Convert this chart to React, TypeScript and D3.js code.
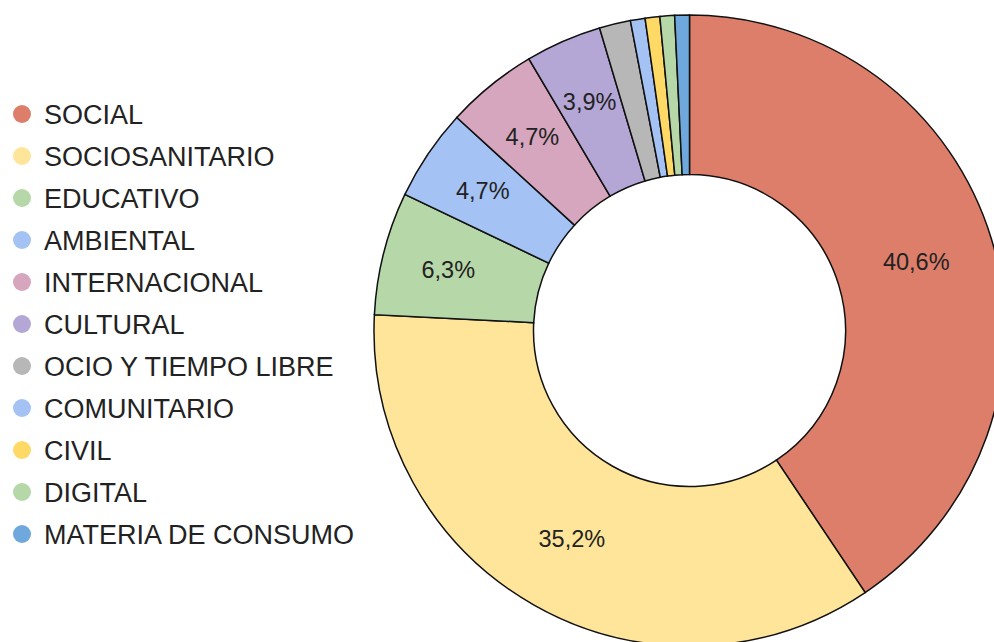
import React, { useEffect, useRef } from 'react';
import * as d3 from 'd3';

const categories = [
  'SOCIAL',
  'SOCIOSANITARIO',
  'EDUCATIVO',
  'AMBIENTAL',
  'INTERNACIONAL',
  'CULTURAL',
  'OCIO Y TIEMPO LIBRE',
  'COMUNITARIO',
  'CIVIL',
  'DIGITAL',
  'MATERIA DE CONSUMO',
];
const values = [40.6, 35.2, 6.3, 4.7, 4.7, 3.9, 1.6, 0.75, 0.75, 0.75, 0.75];
const colors = [
  '#dd7e6b', '#ffe599', '#b6d7a8', '#a4c2f4', '#d5a6bd', '#b4a7d6',
  '#b7b7b7', '#a4c2f4', '#ffd966', '#b6d7a8', '#6fa8dc',
];

const App = () => {
  const ref = useRef<SVGSVGElement>(null);

  useEffect(() => {
    const width = 994;
    const height = 642;
    const cx = 689.5;
    const cy = 330.5;
    const outer = 315.5;
    const inner = 156;

    const svg = d3.select(ref.current);
    svg.selectAll('*').remove();

    const data = categories.map((c, i) => ({ name: c, value: values[i], color: colors[i] }));
    const total = d3.sum(values);
    const maxV = d3.max(values) as number;

    const pie = d3.pie<any>().value(d => d.value).sort(null);
    const arc = d3.arc<any>().innerRadius(inner).outerRadius(outer);

    const g = svg.append('g').attr('transform', `translate(${cx},${cy})`);
    const arcs = pie(data);

    g.selectAll('path')
      .data(arcs)
      .enter()
      .append('path')
      .attr('d', arc)
      .attr('fill', d => d.data.color)
      .attr('stroke', '#111')
      .attr('stroke-width', 1.5);

    // labels sit a bit further out on the thin slices
    const labelPos = (d: any) => {
      const r = 237 + 14 * (1 - d.data.value / maxV);
      const a = (d.startAngle + d.endAngle) / 2;
      return [Math.sin(a) * r, -Math.cos(a) * r];
    };

    // percentage labels only for the bigger slices
    g.selectAll('text')
      .data(arcs.filter(d => d.data.value / total > 0.03))
      .enter()
      .append('text')
      .attr('transform', d => `translate(${labelPos(d)})`)
      .attr('text-anchor', 'middle')
      .attr('dy', '0.36em')
      .attr('font-family', '"Liberation Sans", Arial, sans-serif')
      .attr('font-size', 23.5)
      .attr('fill', '#222')
      .text(d => d.data.value.toFixed(1).replace('.', ',') + '%');

    // legend
    const legend = svg.append('g');
    const row = d3.scaleLinear().domain([0, 1]).range([114, 156]);
    data.forEach((d, i) => {
      const y = row(i);
      legend.append('circle')
        .attr('cx', 22)
        .attr('cy', y)
        .attr('r', 9)
        .attr('fill', d.color);
      legend.append('text')
        .attr('x', 44)
        .attr('y', y)
        .attr('dy', '0.36em')
        .attr('font-family', '"Liberation Sans", Arial, sans-serif')
        .attr('font-size', 27)
        .attr('fill', '#222')
        .text(d.name);
    });

    svg.attr('width', width).attr('height', height);
  }, []);

  return (
    <svg
      ref={ref}
      width={994}
      height={642}
      style={{ position: 'absolute', left: 0, top: 0, background: '#fff' }}
    />
  );
};

export default App;
